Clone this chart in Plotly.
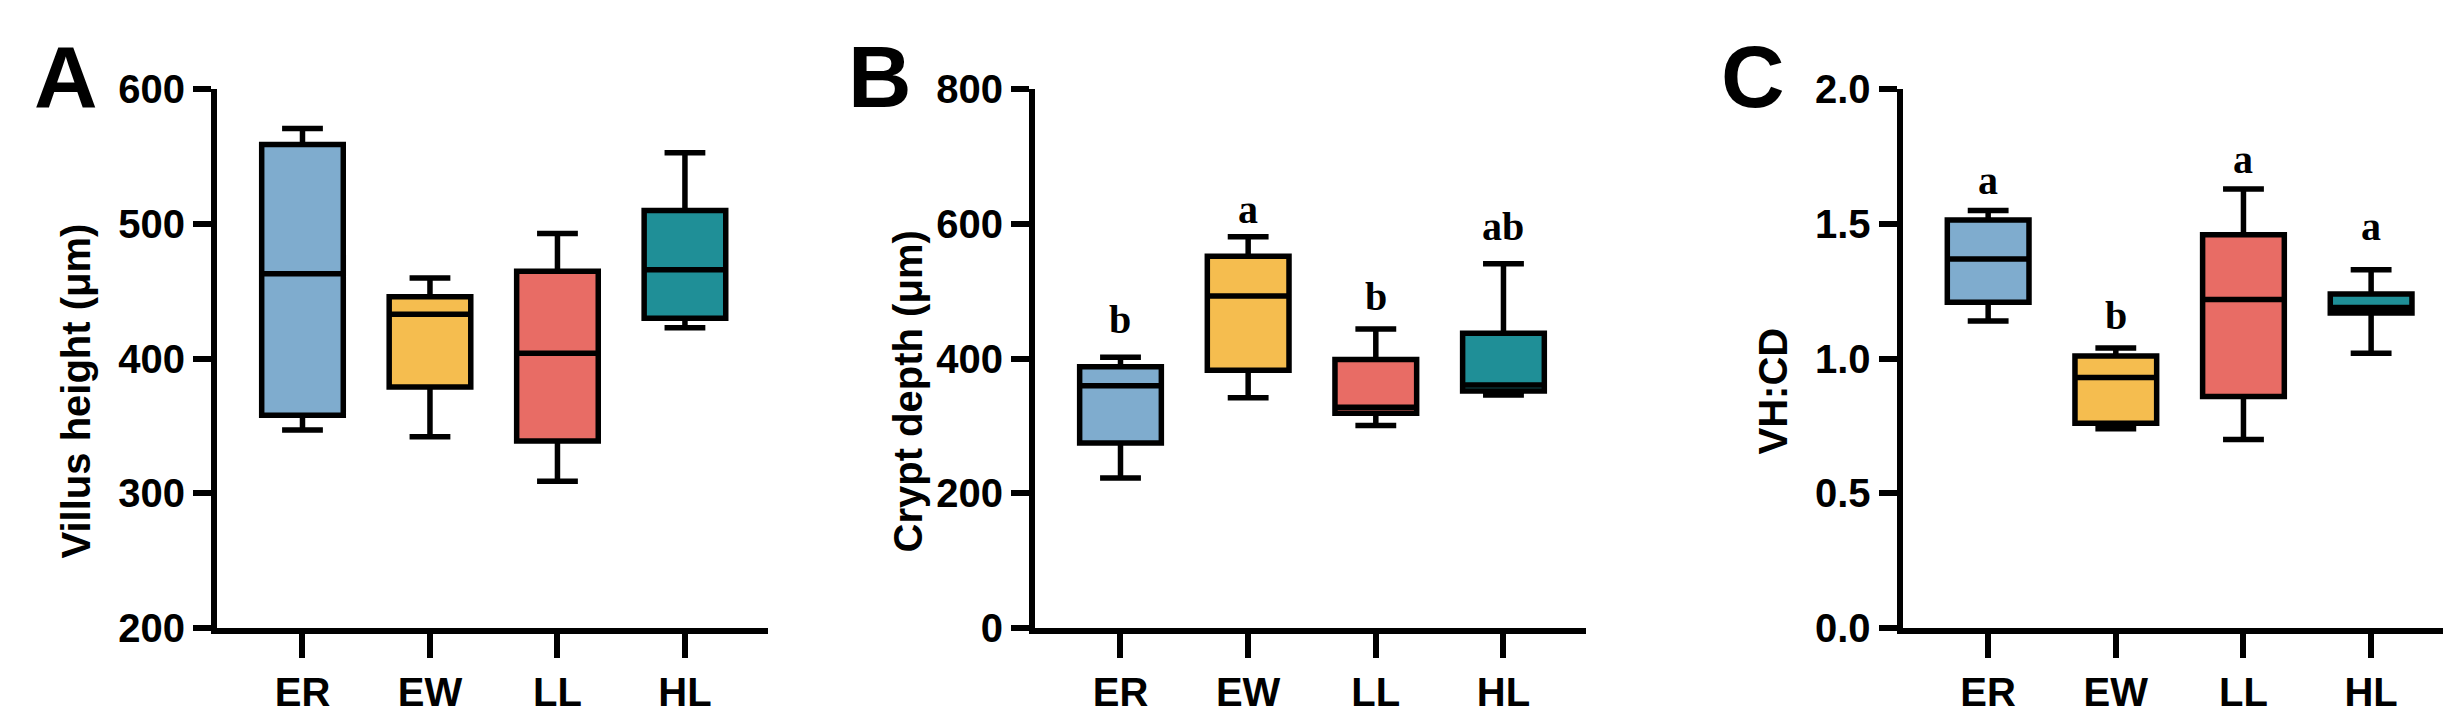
import plotly.graph_objects as go

groups = ["ER", "EW", "LL", "HL"]
colors = ["#7FACCE", "#F5BD4F", "#E86C65", "#1F8F97"]

# [lower whisker, q1, median, q3, upper whisker]
vh_low = [347, 342, 309, 423]
vh_q1 = [358, 379, 339, 430]
vh_med = [463, 433, 404, 466]
vh_q3 = [559, 446, 465, 510]
vh_high = [571, 460, 493, 553]

cd_low = [223, 342, 301, 346]
cd_q1 = [275, 383, 319, 352]
cd_med = [360, 493, 328, 361]
cd_q3 = [388, 552, 399, 438]
cd_high = [402, 581, 444, 541]
cd_letters = ["b", "a", "b", "ab"]
cd_letter_y = [458, 622, 492, 596]

r_low = [1.14, 0.74, 0.70, 1.02]
r_q1 = [1.21, 0.76, 0.86, 1.17]
r_med = [1.37, 0.93, 1.22, 1.19]
r_q3 = [1.515, 1.01, 1.46, 1.24]
r_high = [1.55, 1.04, 1.63, 1.33]
r_letters = ["a", "b", "a", "a"]
r_letter_y = [1.66, 1.16, 1.74, 1.49]

fig = go.Figure()
panels = [
    (vh_low, vh_q1, vh_med, vh_q3, vh_high, "", ""),
    (cd_low, cd_q1, cd_med, cd_q3, cd_high, "2", "2"),
    (r_low, r_q1, r_med, r_q3, r_high, "3", "3"),
]
for lo, q1, md, q3, hi, xs, ys in panels:
    for i, g in enumerate(groups):
        fig.add_trace(go.Box(
            x=[g], q1=[q1[i]], median=[md[i]], q3=[q3[i]],
            lowerfence=[lo[i]], upperfence=[hi[i]],
            fillcolor=colors[i], line=dict(color="black", width=5.5),
            whiskerwidth=0.5, width=0.64, showlegend=False,
            xaxis="x" + xs, yaxis="y" + ys, hoverinfo="skip"))

tickfont = dict(family="Liberation Sans, Arial", size=40, color="black", weight="bold")
ax = dict(showline=True, linecolor="black", linewidth=6, ticks="outside",
          ticklen=18, tickwidth=6, tickcolor="black", showgrid=False,
          zeroline=False, tickfont=tickfont)
xr = [-0.67, 3.65]
ydom = [0.123, 0.913]
fig.update_layout(
    width=2451, height=726, margin=dict(l=0, r=0, t=0, b=0),
    plot_bgcolor="white", paper_bgcolor="white",
    xaxis=dict(ax, domain=[0.0853, 0.310], range=xr, anchor="y", ticklen=24),
    yaxis=dict(ax, domain=ydom, range=[200, 600], dtick=100, anchor="x"),
    xaxis2=dict(ax, domain=[0.419, 0.644], range=xr, anchor="y2", ticklen=24),
    yaxis2=dict(ax, domain=ydom, range=[0, 800], dtick=200, anchor="x2"),
    xaxis3=dict(ax, domain=[0.773, 0.998], range=xr, anchor="y3", ticklen=24),
    yaxis3=dict(ax, domain=ydom, range=[0, 2.0], dtick=0.5, tickformat=".1f", anchor="x3"),
)

titlefont = dict(family="Liberation Sans, Arial", size=40, color="black", weight="bold")
for x, t in [(68, "Villus height (μm)"), (900, "Crypt depth (μm)"), (1765, "VH:CD")]:
    fig.add_annotation(x=x / 2451, y=0.47, xref="paper", yref="paper",
                       xanchor="center", yanchor="middle",
                       text=t, textangle=-90, showarrow=False, font=titlefont)
for x, t in [(58, "A"), (872, "B"), (1745, "C")]:
    fig.add_annotation(x=x / 2451, y=0.932, xref="paper", yref="paper",
                       xanchor="center", yanchor="middle",
                       text=t, showarrow=False,
                       font=dict(family="Liberation Sans, Arial", size=88, color="black", weight="bold"))
letfont = dict(family="Liberation Serif, Times New Roman", size=40, color="black", weight="bold")
for i, g in enumerate(groups):
    fig.add_annotation(x=g, y=cd_letter_y[i], xref="x2", yref="y2", text=cd_letters[i],
                       showarrow=False, font=letfont)
    fig.add_annotation(x=g, y=r_letter_y[i], xref="x3", yref="y3", text=r_letters[i],
                       showarrow=False, font=letfont)

fig.write_html("out.html")
